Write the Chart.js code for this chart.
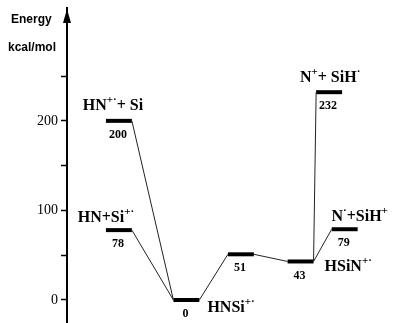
<!DOCTYPE html>
<html>
<head>
<meta charset="utf-8">
<script src="https://cdn.jsdelivr.net/npm/chart.js@4"></script>
<style>
  body { margin: 0; background: #fff; }
  #wrap { width: 394px; height: 323px; position: relative; }
</style>
</head>
<body>
<div id="wrap"><canvas id="mychart"></canvas></div>
<script>
// energy levels (kcal/mol), {..} = superscript
var levelNames    = ["HN{+·}+ Si", "HN+Si{+·}", "HNSi{+·}", "", "HSiN{+·}", "N{+}+ SiH{·}", "N{·}+SiH{+}"];
var levelEnergies = [200, 78, 0, 51, 43, 232, 79];
var levelCoords   = [2, 2, 4.6, 6.7, 9, 10.1, 10.7];   // reaction coordinate
// which level connects to which
var pathFrom = [0, 1, 2, 3, 4, 4];
var pathTo   = [2, 2, 3, 4, 5, 6];
var yTicks = [0, 50, 100, 150, 200, 250];

// label placement: [dx px, dy px, align]
var nameStyle = [[-6, -11, "center"], [-13, -8, "center"], [21, 12, "left"], null, [24, 10, "left"], [1, -10, "center"], [15, -8, "center"]];
var halfWidth = 0.5;

var datasets = [];
// dunne verbindingslijnen
for (var i = 0; i < pathFrom.length; i++) {
    var a = pathFrom[i], b = pathTo[i];
    datasets.push({
        data: [{x: levelCoords[a] + halfWidth, y: levelEnergies[a]}, {x: levelCoords[b] - halfWidth, y: levelEnergies[b]}],
        borderColor: "#222", borderWidth: 1, pointRadius: 0, showLine: true
    });
}
// dikke niveaus
for (var i = 0; i < levelEnergies.length; i++) {
    datasets.push({
        data: [{x: levelCoords[i] - halfWidth, y: levelEnergies[i]}, {x: levelCoords[i] + halfWidth, y: levelEnergies[i]}],
        borderColor: "#000", borderWidth: 4, borderCapStyle: "butt", pointRadius: 0, showLine: true
    });
}

function drawRich(ctx, text, x, y, align) {
    var parts = text.split(/(\{[^}]*\})/).filter(function (p) { return p.length; });
    var big = "bold 16px 'Liberation Serif', 'DejaVu Serif', serif";
    var small = "bold 11px 'Liberation Serif', 'DejaVu Serif', serif";
    var total = 0;
    parts.forEach(function (p) {
        ctx.font = p[0] == "{" ? small : big;
        total += ctx.measureText(p[0] == "{" ? p.slice(1, -1) : p).width;
    });
    var cx = align == "center" ? x - total / 2 : x;
    ctx.textAlign = "left";
    ctx.textBaseline = "alphabetic";
    parts.forEach(function (p) {
        var sup = p[0] == "{";
        var t = sup ? p.slice(1, -1) : p;
        ctx.font = sup ? small : big;
        ctx.fillText(t, cx, sup ? y - 7 : y);
        cx += ctx.measureText(t).width;
    });
}

var labelPlugin = {
    id: "levelLabels",
    afterDraw: function (chart) {
        var ctx = chart.ctx, xs = chart.scales.x, ys = chart.scales.y;
        var area = chart.chartArea;
        ctx.save();
        ctx.fillStyle = "#000";
        // pijl bovenaan de as
        ctx.beginPath();
        ctx.moveTo(area.left, area.top + 1);
        ctx.lineTo(area.left - 4, area.top + 15);
        ctx.lineTo(area.left + 4, area.top + 15);
        ctx.closePath();
        ctx.fill();

        ctx.font = "bold 12px 'Liberation Sans', Arial, sans-serif";
        ctx.textAlign = "left";
        ctx.textBaseline = "middle";
        ctx.fillText("Energy", 11, 20);
        ctx.fillText("kcal/mol", 8, 48);

        for (var i = 0; i < levelEnergies.length; i++) {
            var px = xs.getPixelForValue(levelCoords[i]);
            var py = ys.getPixelForValue(levelEnergies[i]);
            ctx.font = "bold 12px 'Liberation Serif', serif";
            ctx.textAlign = "center";
            ctx.textBaseline = "middle";
            ctx.fillText(String(levelEnergies[i]), px - 1, py + 14);
            if (levelNames[i] && nameStyle[i]) {
                drawRich(ctx, levelNames[i], px + nameStyle[i][0], py + nameStyle[i][1], nameStyle[i][2]);
            }
        }
        ctx.restore();
    }
};

var mychart = new Chart(document.getElementById("mychart"), {
    type: "scatter",
    data: { datasets: datasets },
    options: {
        responsive: true,
        maintainAspectRatio: false,
        animation: false,
        layout: { padding: { top: 8, right: 0, bottom: 0, left: 0 } },
        plugins: { legend: { display: false }, tooltip: { enabled: false } },
        scales: {
            x: { type: "linear", display: false, min: 0, max: 12.6 },
            y: {
                min: -25.7, max: 326,
                afterBuildTicks: function (scale) {
                    scale.ticks = yTicks.map(function (v) { return {value: v}; });
                },
                afterFit: function (scale) {
                    scale.width = 67;
                    scale.paddingTop = 0;
                    scale.paddingBottom = 0;
                },
                ticks: {
                    padding: 3,
                    color: "#000",
                    font: { family: "'Liberation Serif', serif", size: 14 },
                    callback: function (v) { return v % 100 == 0 ? v : ""; }
                },
                grid: { drawOnChartArea: false, tickLength: 6, color: "#000", tickWidth: 1.5 },
                border: { display: true, color: "#000", width: 2 }
            }
        }
    },
    plugins: [labelPlugin]
});
</script>
</body>
</html>
